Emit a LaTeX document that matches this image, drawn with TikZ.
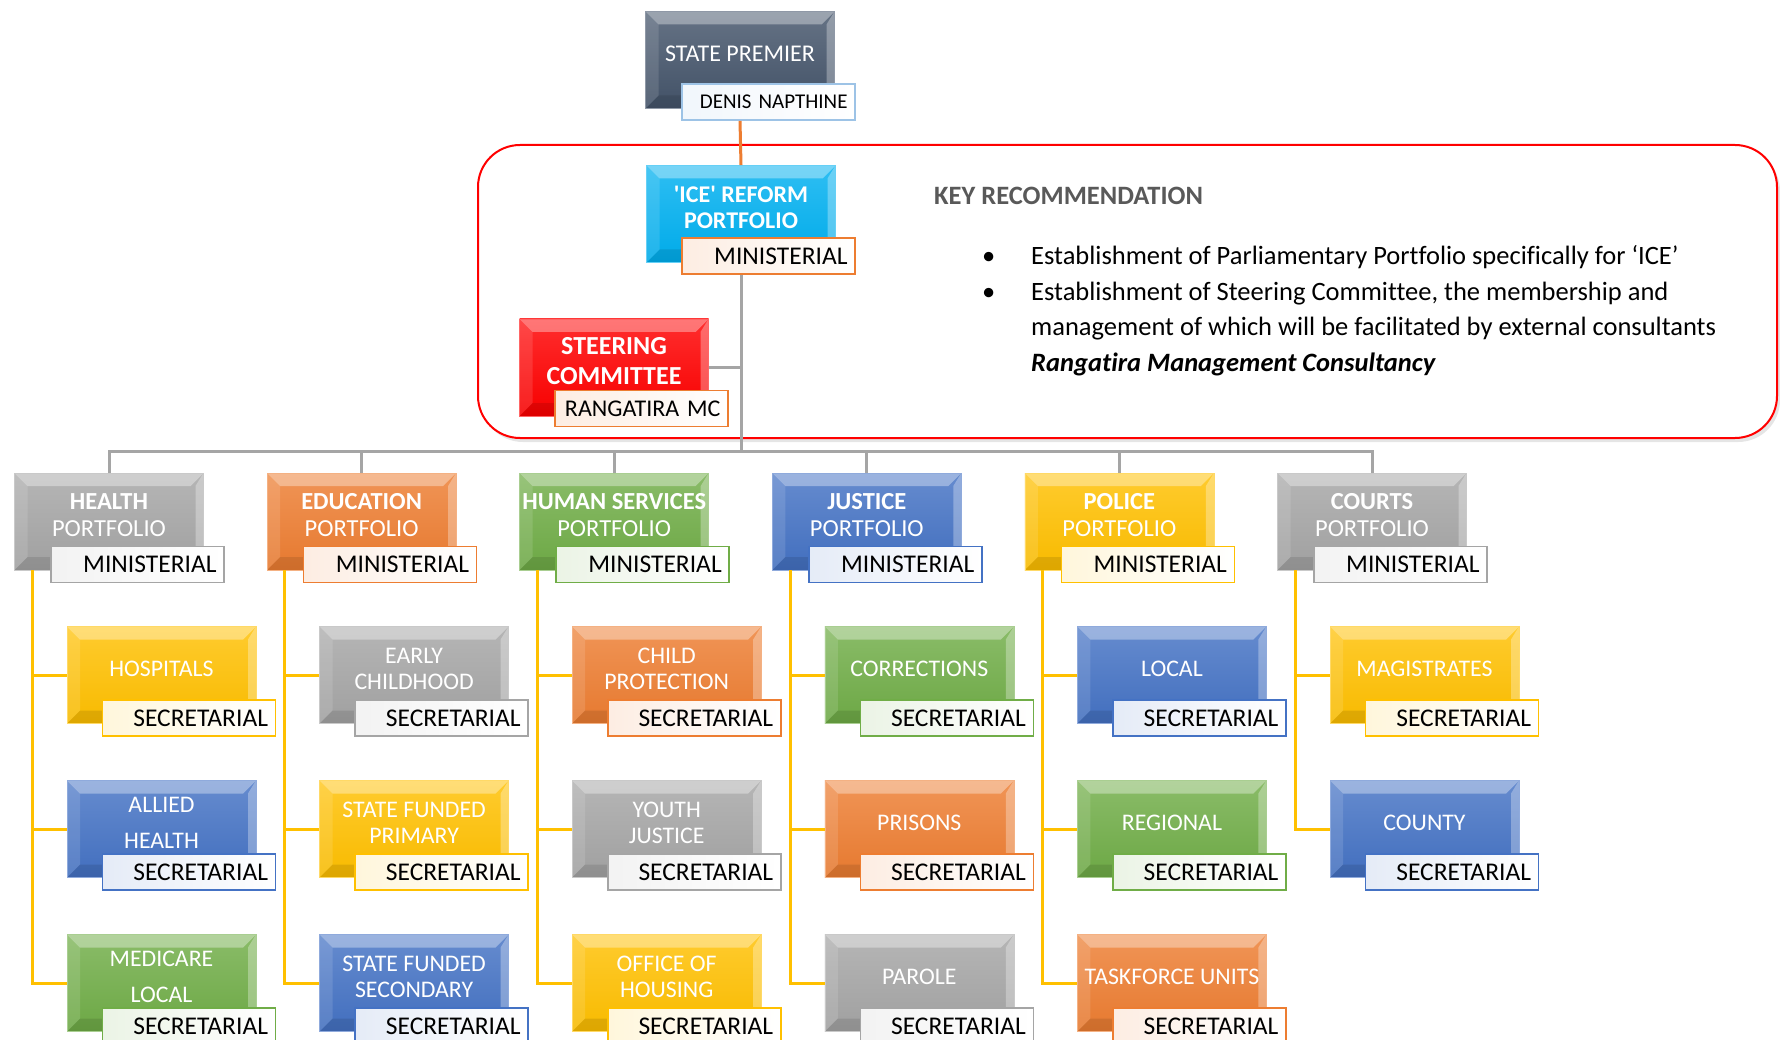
\documentclass[tikz,border=0pt]{standalone}
\usepackage{fontspec}
\setmainfont{Carlito}[Ligatures={NoCommon}]
\usetikzlibrary{shadows}
\definecolor{cslate}{HTML}{44546A}
\definecolor{cice}{HTML}{00B0F0}
\definecolor{cred}{HTML}{FF0000}
\definecolor{cgrey}{HTML}{A5A5A5}
\definecolor{corange}{HTML}{ED7D31}
\definecolor{cgreen}{HTML}{70AD47}
\definecolor{cblue}{HTML}{4472C4}
\definecolor{cgold}{HTML}{FFC000}
\definecolor{cpale}{HTML}{9DC3E6}
\definecolor{ctext}{HTML}{595959}
\tikzset{
	bevel/.style = {path picture={
		\coordinate (bvnw) at (path picture bounding box.north west);
		\coordinate (bvne) at (path picture bounding box.north east);
		\coordinate (bvsw) at (path picture bounding box.south west);
		\coordinate (bvse) at (path picture bounding box.south east);
		\fill[white, opacity=.35] (bvnw) -- (bvne) -- ([shift={(-13pt,-13pt)}]bvne)
			-- ([shift={(13pt,-13pt)}]bvnw) -- cycle;
		\fill[white, opacity=.12] (bvnw) -- ([shift={(13pt,-13pt)}]bvnw)
			-- ([shift={(13pt,13pt)}]bvsw) -- (bvsw) -- cycle;
		\fill[black, opacity=.10] (bvsw) -- ([shift={(13pt,13pt)}]bvsw)
			-- ([shift={(-13pt,13pt)}]bvse) -- (bvse) -- cycle;
		\fill[white, opacity=.30] (bvne) -- (bvse) -- ([shift={(-8pt,13pt)}]bvse)
			-- ([shift={(-8pt,-13pt)}]bvne) -- cycle;
	}},% effet biseau
	unitbox/.style = {rectangle, inner sep=0pt, minimum width=189pt,
		minimum height=97pt, align=center, text=white, text depth=13pt,
		font=\fontsize{23.8}{26}\selectfont, draw=#1!60!white, line width=0.6pt,
		top color=#1!82!white, bottom color=#1!97!black, bevel},% boite coloree
	portbox/.style = {unitbox=#1, font=\fontsize{24.5}{27.5}\selectfont},% portefeuille
	tagbox/.style = {rectangle, inner sep=0pt, minimum width=173pt,
		minimum height=36pt, text width=158pt, align=right, text=black,
		font=\fontsize{25.5}{28}\selectfont, draw=#1, line width=1.6pt,
		left color=#1!14!white, right color=white, anchor=south east},% etiquette
	keyframe/.style = {rectangle, draw=cred, line width=2pt, rounded corners=42pt,
		minimum width=1299pt, minimum height=293pt, fill=white,
		drop shadow={opacity=.2, shadow xshift=3pt, shadow yshift=-4pt}},
	keytitle/.style = {inner sep=0pt, text=ctext, font=\bfseries\fontsize{26.5}{30}\selectfont},
	keytext/.style = {inner sep=0pt, text=black, font=\fontsize{26.5}{35.5}\selectfont},
	toplink/.style = {draw=corange, line width=3pt},
	graylink/.style = {draw=cgrey, line width=3pt},
	sublink/.style = {draw=cgold, line width=3pt}
}
\begin{document}
\begin{tikzpicture}[x=1pt, y=-1pt]
	\path[fill=white, use as bounding box] (0,0) rectangle (1780,1040);
	% cadre recommandation
	\node[keyframe] (keybox) at (1127.5,291.5) {};
	\node[keytitle, anchor=base west] (keyhead) at (934,205) {KEY RECOMMENDATION};
	\node[keytext, anchor=base west] (keylist) at (982,265) {%
		\begin{tabular}[t]{@{}p{49pt}@{}l@{}}
			\textbullet & Establishment of Parliamentary Portfolio specifically for ‘ICE’\\
			\textbullet & Establishment of Steering Committee, the membership and\\
			& management of which will be facilitated by external consultants\\
			& \textbf{\textit{Rangatira Management Consultancy}}
		\end{tabular}};

	% sommet
	\node[unitbox=cslate, font=\fontsize{24}{26}\selectfont] (prem) at (740,60) {STATE PREMIER};
	\node[tagbox=cpale, font=\fontsize{21}{24}\selectfont] (premtag)
		at ([xshift=21pt,yshift=-12pt]prem.south east) {DENIS NAPTHINE};
	\node[unitbox=cice, font=\bfseries\fontsize{24}{26}\selectfont] (ice) at (741,214)
		{\textquotesingle ICE\textquotesingle{} REFORM\\PORTFOLIO};
	\node[tagbox=corange] (icetag) at ([xshift=20pt,yshift=-12pt]ice.south east) {MINISTERIAL};
	\node[unitbox=cred, font=\bfseries\fontsize{26}{26}\selectfont] (steer) at (614,367.5)
		{STEERING\\[4pt]COMMITTEE};
	\node[tagbox=corange, font=\fontsize{24}{28}\selectfont] (steertag)
		at ([xshift=20pt,yshift=-11pt]steer.south east) {RANGATIRA MC};

	% portefeuilles
	\node[portbox=cgrey] (health) at (109,521.5) {\textbf{HEALTH}\\PORTFOLIO};
	\node[tagbox=cgrey] (healthtag) at ([xshift=21pt,yshift=-13pt]health.south east) {MINISTERIAL};
	\node[portbox=corange] (educ) at (361.6,521.5) {\textbf{EDUCATION}\\PORTFOLIO};
	\node[tagbox=corange] (eductag) at ([xshift=21pt,yshift=-13pt]educ.south east) {MINISTERIAL};
	\node[portbox=cgreen] (human) at (614.2,521.5) {\textbf{HUMAN SERVICES}\\PORTFOLIO};
	\node[tagbox=cgreen] (humantag) at ([xshift=21pt,yshift=-13pt]human.south east) {MINISTERIAL};
	\node[portbox=cblue] (justice) at (866.8,521.5) {\textbf{JUSTICE}\\PORTFOLIO};
	\node[tagbox=cblue] (justicetag) at ([xshift=21pt,yshift=-13pt]justice.south east) {MINISTERIAL};
	\node[portbox=cgold] (police) at (1119.4,521.5) {\textbf{POLICE}\\PORTFOLIO};
	\node[tagbox=cgold] (policetag) at ([xshift=21pt,yshift=-13pt]police.south east) {MINISTERIAL};
	\node[portbox=cgrey] (courts) at (1372,521.5) {\textbf{COURTS}\\PORTFOLIO};
	\node[tagbox=cgrey] (courtstag) at ([xshift=21pt,yshift=-13pt]courts.south east) {MINISTERIAL};

	% secretariats
	\node[unitbox=cgold] (hosp) at (161.5,675) {HOSPITALS};
	\node[tagbox=cgold] (hosptag) at ([xshift=20pt,yshift=-13pt]hosp.south east) {SECRETARIAL};
	\node[unitbox=cblue] (allied) at (161.5,829) {ALLIED\\[10pt]HEALTH};
	\node[tagbox=cblue] (alliedtag) at ([xshift=20pt,yshift=-13pt]allied.south east) {SECRETARIAL};
	\node[unitbox=cgreen] (medic) at (161.5,983) {MEDICARE\\[10pt]LOCAL};
	\node[tagbox=cgreen] (medictag) at ([xshift=20pt,yshift=-13pt]medic.south east) {SECRETARIAL};

	\node[unitbox=cgrey] (early) at (414.1,675) {EARLY\\CHILDHOOD};
	\node[tagbox=cgrey] (earlytag) at ([xshift=20pt,yshift=-13pt]early.south east) {SECRETARIAL};
	\node[unitbox=cgold] (prim) at (414.1,829) {STATE FUNDED\\PRIMARY};
	\node[tagbox=cgold] (primtag) at ([xshift=20pt,yshift=-13pt]prim.south east) {SECRETARIAL};
	\node[unitbox=cblue] (second) at (414.1,983) {STATE FUNDED\\SECONDARY};
	\node[tagbox=cblue] (secondtag) at ([xshift=20pt,yshift=-13pt]second.south east) {SECRETARIAL};

	\node[unitbox=corange] (child) at (666.7,675) {CHILD\\PROTECTION};
	\node[tagbox=corange] (childtag) at ([xshift=20pt,yshift=-13pt]child.south east) {SECRETARIAL};
	\node[unitbox=cgrey] (youth) at (666.7,829) {YOUTH\\JUSTICE};
	\node[tagbox=cgrey] (youthtag) at ([xshift=20pt,yshift=-13pt]youth.south east) {SECRETARIAL};
	\node[unitbox=cgold] (housing) at (666.7,983) {OFFICE OF\\HOUSING};
	\node[tagbox=cgold] (housingtag) at ([xshift=20pt,yshift=-13pt]housing.south east) {SECRETARIAL};

	\node[unitbox=cgreen] (correct) at (919.3,675) {CORRECTIONS};
	\node[tagbox=cgreen] (correcttag) at ([xshift=20pt,yshift=-13pt]correct.south east) {SECRETARIAL};
	\node[unitbox=corange] (prison) at (919.3,829) {PRISONS};
	\node[tagbox=corange] (prisontag) at ([xshift=20pt,yshift=-13pt]prison.south east) {SECRETARIAL};
	\node[unitbox=cgrey] (parole) at (919.3,983) {PAROLE};
	\node[tagbox=cgrey] (paroletag) at ([xshift=20pt,yshift=-13pt]parole.south east) {SECRETARIAL};

	\node[unitbox=cblue] (local) at (1171.9,675) {LOCAL};
	\node[tagbox=cblue] (localtag) at ([xshift=20pt,yshift=-13pt]local.south east) {SECRETARIAL};
	\node[unitbox=cgreen] (region) at (1171.9,829) {REGIONAL};
	\node[tagbox=cgreen] (regiontag) at ([xshift=20pt,yshift=-13pt]region.south east) {SECRETARIAL};
	\node[unitbox=corange] (task) at (1171.9,983) {TASKFORCE UNITS};
	\node[tagbox=corange] (tasktag) at ([xshift=20pt,yshift=-13pt]task.south east) {SECRETARIAL};

	\node[unitbox=cgold] (magis) at (1424.5,675) {MAGISTRATES};
	\node[tagbox=cgold] (magistag) at ([xshift=20pt,yshift=-13pt]magis.south east) {SECRETARIAL};
	\node[unitbox=cblue] (county) at (1424.5,829) {COUNTY};
	\node[tagbox=cblue] (countytag) at ([xshift=20pt,yshift=-13pt]county.south east) {SECRETARIAL};

	% liaisons
	\coordinate (bus) at (741,451);
	\draw[toplink] (premtag.south -| prem.south) -- (ice.north);
	\draw[graylink] (icetag.south -| ice.south) -- (bus);
	\draw[graylink] (steer.east) -- (steer.east -| ice.south);
	\draw[graylink] (health.north) |- (bus);
	\draw[graylink] (educ.north) |- (bus);
	\draw[graylink] (human.north) |- (bus);
	\draw[graylink] (justice.north) |- (bus);
	\draw[graylink] (police.north) |- (bus);
	\draw[graylink] (courts.north) |- (bus);
	\draw[sublink] ([xshift=18pt]health.south west) |- (hosp.west);
	\draw[sublink] ([xshift=18pt]health.south west) |- (allied.west);
	\draw[sublink] ([xshift=18pt]health.south west) |- (medic.west);
	\draw[sublink] ([xshift=18pt]educ.south west) |- (early.west);
	\draw[sublink] ([xshift=18pt]educ.south west) |- (prim.west);
	\draw[sublink] ([xshift=18pt]educ.south west) |- (second.west);
	\draw[sublink] ([xshift=18pt]human.south west) |- (child.west);
	\draw[sublink] ([xshift=18pt]human.south west) |- (youth.west);
	\draw[sublink] ([xshift=18pt]human.south west) |- (housing.west);
	\draw[sublink] ([xshift=18pt]justice.south west) |- (correct.west);
	\draw[sublink] ([xshift=18pt]justice.south west) |- (prison.west);
	\draw[sublink] ([xshift=18pt]justice.south west) |- (parole.west);
	\draw[sublink] ([xshift=18pt]police.south west) |- (local.west);
	\draw[sublink] ([xshift=18pt]police.south west) |- (region.west);
	\draw[sublink] ([xshift=18pt]police.south west) |- (task.west);
	\draw[sublink] ([xshift=18pt]courts.south west) |- (magis.west);
	\draw[sublink] ([xshift=18pt]courts.south west) |- (county.west);
\end{tikzpicture}
\end{document}
